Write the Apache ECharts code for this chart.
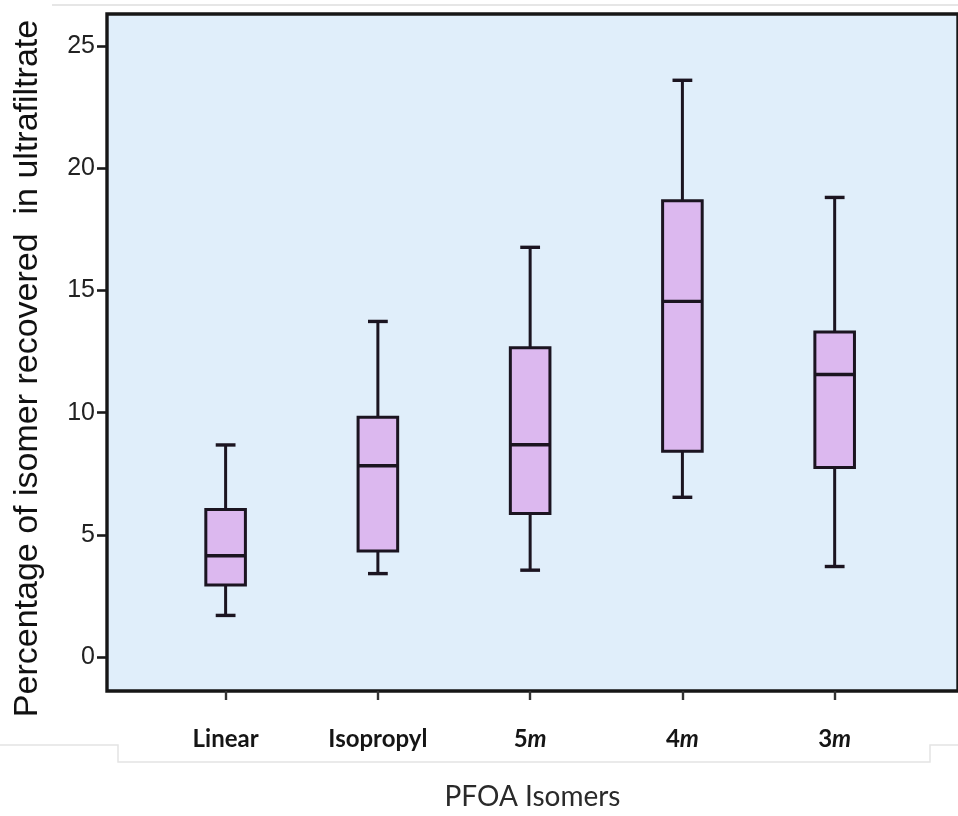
<!DOCTYPE html>
<html>
<head>
<meta charset="utf-8">
<script src="https://cdn.jsdelivr.net/npm/echarts@6/dist/echarts.min.js"></script>
<style>
  html, body { margin: 0; padding: 0; background: #ffffff; }
  #chart { width: 958px; height: 816px; }
</style>
</head>
<body>
<div id="chart"></div>
<script>
// PFOA isomer recovery in ultrafiltrate (%), one box per isomer
const isomers = ['Linear', 'Isopropyl', '5m', '4m', '3m'];
const whiskerLow  = [1.71, 3.42, 3.56, 6.54, 3.71];
const quartile1   = [2.95, 4.34, 5.88, 8.42, 7.76];
const median      = [4.15, 7.83, 8.69, 14.55, 11.56];
const quartile3   = [6.04, 9.81, 12.65, 18.66, 13.30];
const whiskerHigh = [8.68, 13.73, 16.76, 23.59, 18.80];
const yTicks = [0, 5, 10, 15, 20, 25];
const xTicks = isomers.map((_, i) => i + 1);

const boxData = isomers.map((_, i) => [
  i + 1, whiskerLow[i], quartile1[i], median[i], quartile3[i], whiskerHigh[i]
]);

const BOX_WIDTH = 0.26;      // in x-axis units
const STROKE = '#1b1420';
const BOX_FILL = '#dcb8ef';

function renderBox(params, api) {
  const x = api.value(0);
  const lo = api.coord([x, api.value(1)]);
  const q1 = api.coord([x, api.value(2)]);
  const md = api.coord([x, api.value(3)]);
  const q3 = api.coord([x, api.value(4)]);
  const hi = api.coord([x, api.value(5)]);
  const half = api.size([BOX_WIDTH, 0])[0] / 2;
  const cap = half / 2;
  const cx = lo[0];
  const lineStyle = { stroke: STROKE, lineWidth: 3 };
  const thick = { stroke: STROKE, lineWidth: 3.4 };
  return {
    type: 'group',
    children: [
      { type: 'line', shape: { x1: cx, y1: hi[1], x2: cx, y2: q3[1] }, style: lineStyle },
      { type: 'line', shape: { x1: cx, y1: q1[1], x2: cx, y2: lo[1] }, style: lineStyle },
      { type: 'line', shape: { x1: cx - cap, y1: hi[1], x2: cx + cap, y2: hi[1] }, style: thick },
      { type: 'line', shape: { x1: cx - cap, y1: lo[1], x2: cx + cap, y2: lo[1] }, style: thick },
      { type: 'rect', shape: { x: cx - half, y: q3[1], width: half * 2, height: q1[1] - q3[1] },
        style: { fill: BOX_FILL, stroke: STROKE, lineWidth: 3 } },
      { type: 'line', shape: { x1: cx - half, y1: md[1], x2: cx + half, y2: md[1] }, style: thick }
    ]
  };
}

function isomerLabel(v) {
  const name = isomers[Math.round(v) - 1];
  if (!name) return '';
  if (/^\dm$/.test(name)) return '{b|' + name[0] + '}{i|m}';
  return '{b|' + name + '}';
}

const chart = echarts.init(document.getElementById('chart'), null, { renderer: 'canvas' });

chart.setOption({
  animation: false,
  backgroundColor: '#ffffff',
  grid: {
    left: 107, top: 14, right: -12, bottom: 122,
    show: true,
    backgroundColor: '#e0eefa',
    borderColor: '#161616',
    borderWidth: 3.4
  },
  xAxis: {
    type: 'value',
    min: 0.221,
    max: 5.81,
    splitLine: { show: false },
    axisLine: { show: false, onZero: false },
    axisTick: {
      show: true, customValues: xTicks, length: 9,
      lineStyle: { color: '#333333', width: 2.4 }
    },
    axisLabel: {
      customValues: xTicks,
      margin: 36,
      formatter: isomerLabel,
      rich: {
        b: { fontFamily: 'Lato', fontWeight: 'bold', fontSize: 24, color: '#151515' },
        i: { fontFamily: 'Lato', fontWeight: 'bold', fontStyle: 'italic', fontSize: 24, color: '#151515' }
      }
    },
    name: 'PFOA Isomers',
    nameLocation: 'middle',
    nameGap: 92,
    nameTextStyle: { fontFamily: 'Lato', fontSize: 28, color: '#2a2a2a' }
  },
  yAxis: {
    type: 'value',
    min: -1.38,
    max: 26.3,
    splitLine: { show: false },
    axisLine: { show: false, onZero: false },
    axisTick: {
      show: true, customValues: yTicks, length: 10,
      lineStyle: { color: '#1a1a1a', width: 2.6 }
    },
    axisLabel: {
      customValues: yTicks,
      margin: 12,
      fontFamily: 'Liberation Sans',
      fontSize: 25,
      color: '#222222'
    },
    name: 'Percentage of isomer recovered  in ultrafiltrate',
    nameLocation: 'middle',
    nameGap: 62,
    nameTextStyle: {
      fontFamily: 'Liberation Sans', fontSize: 34, color: '#111111',
      padding: [0, 32, 0, 0]
    }
  },
  graphic: [
    {
      type: 'polyline', silent: true,
      shape: { points: [[52, 5], [958, 5]] },
      style: { stroke: '#e6e6e6', lineWidth: 2, fill: null }
    },
    {
      type: 'polyline', silent: true,
      shape: { points: [[0, 745], [118, 745], [118, 762], [930, 762], [930, 745], [958, 745]] },
      style: { stroke: '#e4e4e4', lineWidth: 1.5, fill: null }
    }
  ],
  series: [{
    type: 'custom',
    renderItem: renderBox,
    data: boxData,
    encode: { x: 0, y: [1, 2, 3, 4, 5] },
    clip: false
  }]
});
</script>
</body>
</html>
